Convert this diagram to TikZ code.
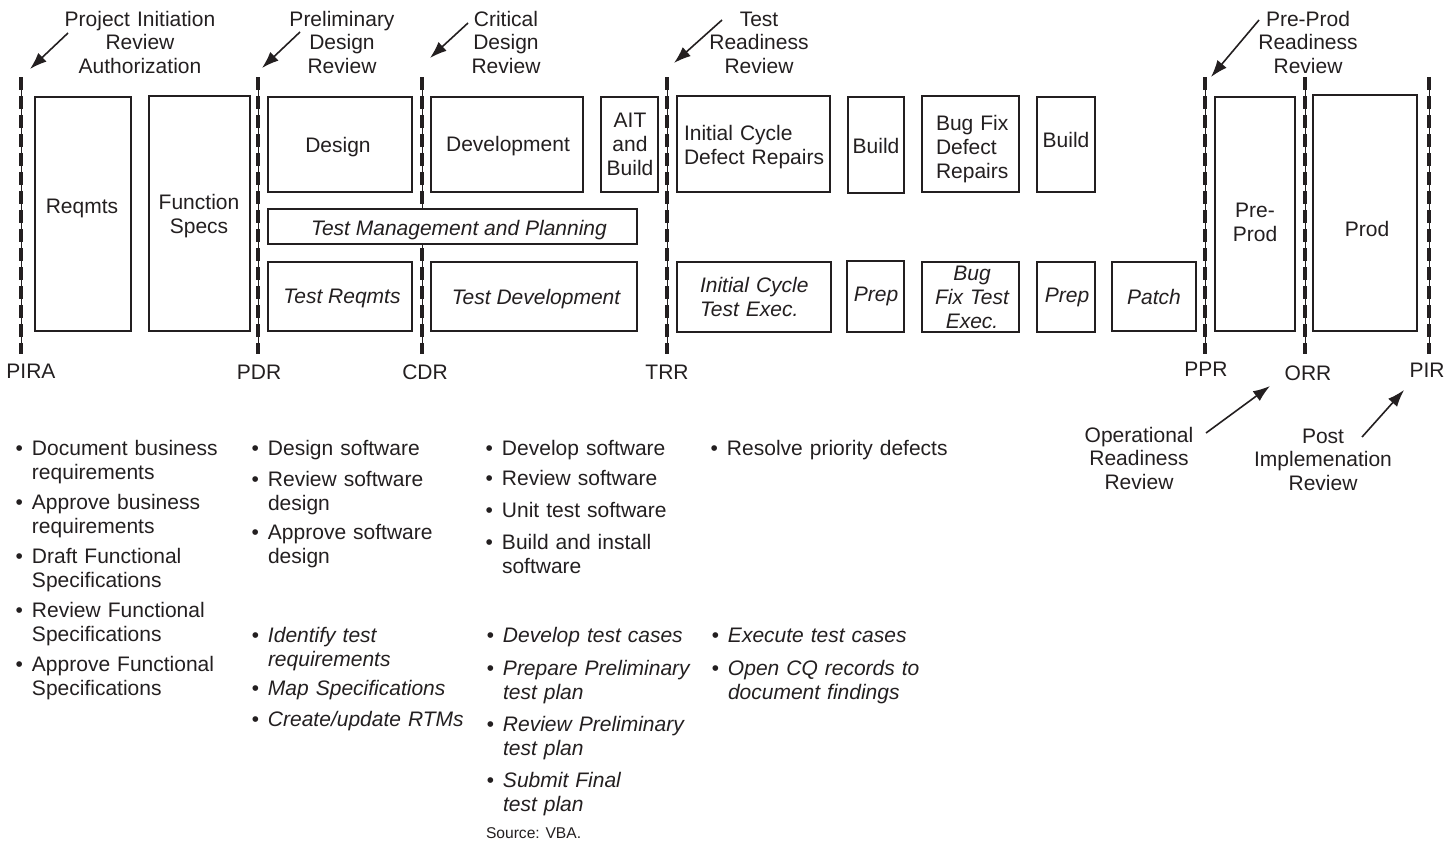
\documentclass[tikz,border=0pt]{standalone}
\usepackage{fontspec}
\setmainfont{Liberation Sans}
\usetikzlibrary{arrows.meta,fit}
\definecolor{ink}{RGB}{35,31,32}
\begin{document}
\begin{tikzpicture}[x=0.5pt,y=-0.5pt,
  every node/.style={inner sep=0pt, outer sep=0pt, text=ink, font=\fontsize{10.5}{12}\selectfont},
  box/.style={draw=ink, fill=white, line width=1.25pt, inner sep=0pt},
  lab/.style={anchor=base},
  mlab/.style={anchor=base, text width=120pt, align=center},
  llab/.style={anchor=base west, text width=120pt, align=left},
  toplab/.style={anchor=base, text width=120pt, align=center, font=\fontsize{10.5}{11.75}\selectfont},
  item/.style={anchor=base west, text width=150pt, align=left},
  it/.style={font=\fontsize{10.5}{12}\selectfont\itshape},
  guidethin/.style={draw=ink, line width=0.3pt},
  guidedash/.style={draw=ink, line width=2pt, dash pattern=on 6.5pt off 3pt},
  pointer/.style={draw=ink, line width=0.8pt, -{Latex[length=8.5pt,width=6pt]}}
]
\useasboundingbox (0,0) rectangle (1455,846);

% milestone guide lines
\coordinate (pira-top) at (21,77);   \coordinate (pira-bot) at (21,354);
\coordinate (pdr-top) at (258,77);   \coordinate (pdr-bot) at (258,354);
\coordinate (cdr-top) at (422,77);   \coordinate (cdr-bot) at (422,354);
\coordinate (trr-top) at (667,77);   \coordinate (trr-bot) at (667,354);
\coordinate (ppr-top) at (1205,77);  \coordinate (ppr-bot) at (1205,354);
\coordinate (orr-top) at (1305,77);  \coordinate (orr-bot) at (1305,354);
\coordinate (pir-top) at (1429,77);  \coordinate (pir-bot) at (1429,354);

\foreach \n in {pira,pdr,cdr,trr,ppr,orr,pir}{
  \draw[guidethin] (\n-top) -- (\n-bot);
  \draw[guidedash] (\n-top) -- (\n-bot);
}

% top review labels
\node[toplab] (pira-l) at (140,26) {Project Initiation\\Review\\Authorization};
\node[toplab] (pdr-l) at (342,26) {Preliminary\\Design\\Review};
\node[toplab] (cdr-l) at (506,26) {Critical\\Design\\Review};
\node[toplab] (trr-l) at (759,26) {Test\\Readiness\\Review};
\node[toplab] (ppr-l) at (1308,26) {Pre-Prod\\Readiness\\Review};

% arrows
\coordinate (a1s) at (68,33);   \coordinate (a1e) at (30,69);
\coordinate (a2s) at (300,32);  \coordinate (a2e) at (262,68);
\coordinate (a3s) at (468,23);  \coordinate (a3e) at (430,58);
\coordinate (a4s) at (722,20);  \coordinate (a4e) at (674,63);
\coordinate (a5s) at (1259,20); \coordinate (a5e) at (1211,77);
\coordinate (a6s) at (1206,433); \coordinate (a6e) at (1270,386);
\coordinate (a7s) at (1362,437); \coordinate (a7e) at (1404,390);
\foreach \i in {1,...,7}{ \draw[pointer] (a\i s) -- (a\i e); }

% boxes
\node[box, fit={(35,97) (131,331)}] (reqmts) {};
\node[box, fit={(149,96) (250,331)}] (fspecs) {};
\node[box, fit={(268,97) (412,192)}] (design) {};
\node[box, fit={(431,97) (583,192)}] (devel) {};
\node[box, fit={(601,97) (658,192)}] (ait) {};
\node[box, fit={(677,96) (830,192)}] (icdr) {};
\node[box, fit={(848,97) (904,193)}] (build1) {};
\node[box, fit={(922,96) (1019,192)}] (bugfix) {};
\node[box, fit={(1037,97) (1095,192)}] (build2) {};
\node[box, fit={(268,209) (637,244)}] (tmp) {};
\node[box, fit={(268,262) (412,331)}] (treq) {};
\node[box, fit={(431,262) (637,331)}] (tdev) {};
\node[box, fit={(677,262) (831,332)}] (icte) {};
\node[box, fit={(847,261) (904,332)}] (prep1) {};
\node[box, fit={(922,262) (1019,332)}] (bfte) {};
\node[box, fit={(1037,262) (1095,332)}] (prep2) {};
\node[box, fit={(1112,262) (1196,331)}] (patch) {};
\node[box, fit={(1215,97) (1295,331)}] (preprod) {};
\node[box, fit={(1313,95) (1417,331)}] (prod) {};

% box labels
\node[lab] (reqmts-t) at (82,213) {Reqmts};
\node[mlab] (fspecs-t) at (199,209) {Function\\Specs};
\node[lab] (design-t) at (338,152) {Design};
\node[lab] (devel-t) at (508,151) {Development};
\node[mlab] (ait-t) at (630,127) {AIT\\and\\Build};
\node[llab] (icdr-t) at (684,140) {Initial Cycle\\Defect Repairs};
\node[lab] (build1-t) at (876,153) {Build};
\node[llab] (bugfix-t) at (936,130) {Bug Fix\\Defect\\Repairs};
\node[lab] (build2-t) at (1066,147) {Build};
\node[lab, it] (tmp-t) at (459,235) {Test Management and Planning};
\node[lab, it] (treq-t) at (342,303) {Test Reqmts};
\node[lab, it] (tdev-t) at (536,304) {Test Development};
\node[llab, it] (icte-t) at (700,292) {Initial Cycle\\Test Exec.};
\node[lab, it] (prep1-t) at (876,301) {Prep};
\node[mlab, it] (bfte-t) at (972,280) {Bug\\Fix Test\\Exec.};
\node[lab, it] (prep2-t) at (1067,302) {Prep};
\node[lab, it] (patch-t) at (1154,304) {Patch};
\node[mlab] (preprod-t) at (1255,217) {Pre-\\Prod};
\node[lab] (prod-t) at (1367,236) {Prod};

% milestone abbreviations
\node[lab] (pira-a) at (31,378) {PIRA};
\node[lab] (pdr-a) at (259,379) {PDR};
\node[lab] (cdr-a) at (425,379) {CDR};
\node[lab] (trr-a) at (667,379) {TRR};
\node[lab] (ppr-a) at (1206,376) {PPR};
\node[lab] (orr-a) at (1308,380) {ORR};
\node[lab] (pir-a) at (1427,377) {PIR};

\node[toplab] (orr-l) at (1139,442) {Operational\\Readiness\\Review};
\node[toplab] (pir-l) at (1323,443) {Post\\Implemenation\\Review};

% activity lists
\newcommand{\bul}{\llap{•\hspace{4.5pt}}}
\node[item] (c1a) at (32,455) {\bul Document business\\requirements};
\node[item] (c1b) at (32,509) {\bul Approve business\\requirements};
\node[item] (c1c) at (32,563) {\bul Draft Functional\\Specifications};
\node[item] (c1d) at (32,617) {\bul Review Functional\\Specifications};
\node[item] (c1e) at (32,671) {\bul Approve Functional\\Specifications};

\node[item] (c2a) at (268,455) {\bul Design software};
\node[item] (c2b) at (268,486) {\bul Review software\\design};
\node[item] (c2c) at (268,539) {\bul Approve software\\design};
\node[item, it] (c2d) at (268,642) {\bul Identify test\\requirements};
\node[item, it] (c2e) at (268,695) {\bul Map Specifications};
\node[item, it] (c2f) at (268,726) {\bul Create/update RTMs};

\node[item] (c3a) at (502,455) {\bul Develop software};
\node[item] (c3b) at (502,485) {\bul Review software};
\node[item] (c3c) at (502,517) {\bul Unit test software};
\node[item] (c3d) at (502,549) {\bul Build and install\\software};
\node[item, it] (c3e) at (503,642) {\bul Develop test cases};
\node[item, it] (c3f) at (503,675) {\bul Prepare Preliminary\\test plan};
\node[item, it] (c3g) at (503,731) {\bul Review Preliminary\\test plan};
\node[item, it] (c3h) at (503,787) {\bul Submit Final\\test plan};

\node[item] (c4a) at (727,455) {\bul Resolve priority defects};
\node[item, it] (c4b) at (728,642) {\bul Execute test cases};
\node[item, it] (c4c) at (728,675) {\bul Open CQ records to\\document findings};

\node[anchor=base west, font=\fontsize{7.8}{9}\selectfont] (src) at (486,838) {Source: VBA.};
\end{tikzpicture}
\end{document}
